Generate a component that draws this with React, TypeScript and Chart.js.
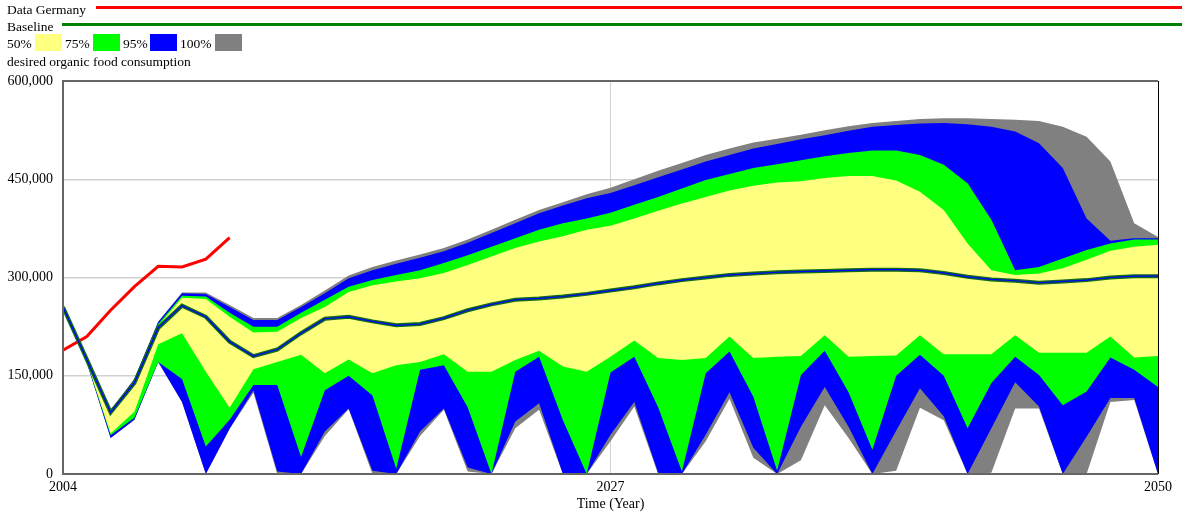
import React, { useEffect, useRef } from "react";
import { Chart, registerables } from "chart.js";

Chart.register(...registerables);

// Time axis (years)
const YEARS = [
  2004, 2005, 2006, 2007, 2008, 2009, 2010, 2011, 2012, 2013,
  2014, 2015, 2016, 2017, 2018, 2019, 2020, 2021, 2022, 2023,
  2024, 2025, 2026, 2027, 2028, 2029, 2030, 2031, 2032, 2033,
  2034, 2035, 2036, 2037, 2038, 2039, 2040, 2041, 2042, 2043,
  2044, 2045, 2046, 2047, 2048, 2049, 2050,
];
const X_TICKS = [2004, 2027, 2050];
const Y_TICKS = [0, 150000, 300000, 450000, 600000];

// values in thousands
const DATA_GERMANY_YEARS = [2004, 2005, 2006, 2007, 2008, 2009, 2010, 2011];
const DATA_GERMANY = [189, 210, 250, 286, 317, 316, 328, 361];

const BASELINE = [
  255, 175, 94, 139, 223, 257, 240, 202, 180, 190,
  215, 237, 240, 233, 227, 229, 238, 250, 259, 266,
  268, 271, 275, 280, 285, 291, 296, 300, 304, 306,
  308, 309, 310, 311, 312, 312, 311, 307, 301, 297,
  295, 292, 294, 296, 300, 302, 302,
];

const Y50_HIGH = [
  255, 175, 95, 141, 226, 269, 267, 240, 216, 217,
  238, 255, 278, 288, 294, 299, 307, 319, 332, 345,
  355, 363, 373, 379, 390, 402, 413, 423, 433, 440,
  445, 447, 452, 455, 455, 448, 431, 403, 352, 311,
  304, 306, 314, 327, 341, 347, 350,
];
const Y50_LOW = [
  255, 172, 62, 95, 198, 215, 156, 101, 160, 171,
  182, 154, 175, 154, 166, 171, 183, 156, 156, 174,
  188, 164, 156, 179, 204, 177, 174, 177, 210, 177,
  179, 180, 212, 179, 180, 181, 212, 183, 183, 183,
  212, 185, 185, 185, 210, 178, 180,
];
const Y75_HIGH = [
  255, 176, 96, 143, 229, 272, 271, 246, 225, 225,
  246, 266, 286, 296, 304, 311, 322, 334, 347, 360,
  373, 383, 390, 399, 411, 423, 436, 449, 458, 467,
  473, 479, 485, 490, 494, 494, 487, 472, 444, 388,
  311, 316, 329, 342, 352, 358, 358,
];
const Y75_LOW = [
  255, 171, 59, 86, 171, 145, 42, 83, 136, 136,
  26, 128, 150, 120, 8, 159, 166, 102, 0, 156,
  179, 82, 0, 155, 179, 102, 4, 154, 187, 118,
  5, 151, 188, 125, 37, 150, 182, 150, 70, 139,
  179, 151, 105, 126, 178, 159, 133,
];
const Y95_HIGH = [
  255, 176, 97, 145, 232, 276, 275, 255, 235, 235,
  255, 276, 299, 311, 321, 330, 340, 353, 368, 383,
  398, 410, 421, 429, 441, 453, 465, 477, 487, 497,
  504, 511, 517, 524, 530, 533, 535, 536, 534, 530,
  523, 505, 467, 390, 356, 360, 360,
];
const Y95_LOW = [
  255, 170, 55, 83, 171, 110, 0, 69, 128, 4,
  0, 65, 100, 5, 0, 65, 100, 10, 0, 80,
  108, 0, 0, 60, 110, 2, 0, 60, 125, 40,
  0, 72, 133, 72, 0, 66, 131, 88, 0, 70,
  140, 103, 0, 57, 116, 116, 0,
];
const Y100_HIGH = [
  255, 176, 97, 145, 233, 277, 277, 258, 238, 238,
  258, 280, 303, 316, 326, 335, 345, 358, 373, 388,
  403, 415, 427, 437, 450, 463, 475, 487, 497, 506,
  512, 518, 525, 531, 536, 539, 542, 543, 543, 542,
  541, 539, 530, 515, 477, 383, 362,
];
const Y100_LOW = [
  255, 170, 55, 83, 171, 110, 0, 69, 124, 0,
  0, 58, 99, 0, 0, 58, 98, 4, 0, 70,
  98, 0, 0, 50, 103, 0, 0, 50, 115, 25,
  0, 21, 105, 55, 0, 5, 101, 82, 0, 2,
  100, 100, 0, 0, 110, 113, 0,
];

const UNIT = 1000;
const FONT = "'Liberation Serif', 'Times New Roman', Times, serif";
const FS = 14;
const FS_LEGEND = 13.5;
const GRID = "rgba(205,205,205,0.9)";
const C_YELLOW = "#FFFF80";
const C_GREEN = "#00FF00";
const C_BLUE = "#0000FF";
const C_GRAY = "#808080";

const pts = (vals: number[], xs: number[] = YEARS) =>
  vals.map((v, i) => ({ x: xs[i], y: v * UNIT }));

const framePlugin = {
  id: "frame",
  afterDraw(chart: any) {
    const { ctx, chartArea: a } = chart;
    ctx.save();
    ctx.strokeStyle = "#666666";
    ctx.lineWidth = 2;
    ctx.beginPath();
    ctx.moveTo(a.right, a.top);
    ctx.lineTo(a.left, a.top);
    ctx.lineTo(a.left, a.bottom);
    ctx.lineTo(a.right, a.bottom);
    ctx.stroke();
    ctx.strokeStyle = "#000000";
    ctx.lineWidth = 1;
    ctx.beginPath();
    ctx.moveTo(a.right + 0.5, a.top);
    ctx.lineTo(a.right + 0.5, a.bottom);
    ctx.stroke();
    ctx.restore();
  },
};

const band = (vals: number[], color: string, fillTo: number | false) => ({
  data: pts(vals),
  borderWidth: 0,
  borderColor: color,
  backgroundColor: color,
  fill: fillTo,
  pointRadius: 0,
  tension: 0,
});

export default function App() {
  const ref = useRef<HTMLCanvasElement | null>(null);

  useEffect(() => {
    if (!ref.current) return;
    const chart = new Chart(ref.current, {
      type: "line",
      data: {
        datasets: [
          { label: "median", data: pts(BASELINE), borderColor: C_BLUE, borderWidth: 1.2, pointRadius: 0, fill: false, tension: 0 },
          { label: "Baseline", data: pts(BASELINE), borderColor: "#0f6a1a", borderWidth: 4, pointRadius: 0, fill: false, tension: 0 },
          { label: "Data Germany", data: pts(DATA_GERMANY, DATA_GERMANY_YEARS), borderColor: "#FF0000", borderWidth: 3, pointRadius: 0, fill: false, tension: 0 },
          band(Y50_HIGH, C_YELLOW, 4),
          band(Y50_LOW, C_YELLOW, false),
          band(Y75_HIGH, C_GREEN, 6),
          band(Y75_LOW, C_GREEN, false),
          band(Y95_HIGH, C_BLUE, 8),
          band(Y95_LOW, C_BLUE, false),
          band(Y100_HIGH, C_GRAY, 10),
          band(Y100_LOW, C_GRAY, false),
        ] as any,
      },
      options: {
        animation: false,
        responsive: true,
        maintainAspectRatio: false,
        layout: { padding: { left: 0, top: 81, right: 24, bottom: 0 } },
        plugins: { legend: { display: false }, tooltip: { enabled: false } },
        font: { family: FONT, size: FS },
        scales: {
          x: {
            type: "linear",
            min: X_TICKS[0],
            max: X_TICKS[X_TICKS.length - 1],
            z: 1,
            afterBuildTicks: (s: any) => {
              s.ticks = X_TICKS.map((v) => ({ value: v }));
            },
            afterFit: (s: any) => {
              s.height = 44;
            },
            ticks: {
              autoSkip: false,
              maxRotation: 0,
              padding: 5,
              color: "#000",
              font: { family: FONT, size: FS },
              callback: (v: any) => String(v),
            },
            grid: {
              drawTicks: false,
              lineWidth: 1,
              color: (c: any) => (c.tick && c.tick.value === X_TICKS[1] ? GRID : "rgba(0,0,0,0)"),
            },
            border: { display: false },
            title: {
              display: true,
              text: "Time (Year)",
              color: "#000",
              font: { family: FONT, size: FS },
              padding: { top: 0, bottom: 5 },
            },
          },
          y: {
            type: "linear",
            min: Y_TICKS[0],
            max: Y_TICKS[Y_TICKS.length - 1],
            z: 1,
            afterBuildTicks: (s: any) => {
              s.ticks = Y_TICKS.map((v) => ({ value: v }));
            },
            afterFit: (s: any) => {
              s.width = 63;
            },
            ticks: {
              padding: 10,
              color: "#000",
              font: { family: FONT, size: FS },
              callback: (v: any) => Number(v).toLocaleString("en-US"),
            },
            grid: {
              drawTicks: false,
              lineWidth: 1.5,
              color: (c: any) =>
                c.tick && c.tick.value > Y_TICKS[0] && c.tick.value < Y_TICKS[Y_TICKS.length - 1]
                  ? GRID
                  : "rgba(0,0,0,0)",
            },
            border: { display: false },
          },
        },
      } as any,
      plugins: [framePlugin],
    });
    return () => chart.destroy();
  }, []);

  const txt = (s: string, left: number, top: number) => (
    <div
      style={{
        position: "absolute",
        left,
        top,
        fontFamily: FONT,
        fontSize: FS_LEGEND,
        lineHeight: "15px",
        color: "#000",
        whiteSpace: "nowrap",
      }}
    >
      {s}
    </div>
  );
  const box = (color: string, left: number) => (
    <div style={{ position: "absolute", left, top: 34, width: 27, height: 17, background: color }} />
  );

  return (
    <div style={{ position: "absolute", left: 0, top: 0, width: 1182, height: 518, background: "#fff" }}>
      <canvas ref={ref} style={{ position: "absolute", left: 0, top: 0, width: 1182, height: 518, display: "block" }} />
      {txt("Data Germany", 7, 1.5)}
      <div style={{ position: "absolute", left: 96, top: 5.5, width: 1086, height: 3, background: "#FF0000" }} />
      {txt("Baseline", 7, 18.5)}
      <div style={{ position: "absolute", left: 62, top: 22.5, width: 1120, height: 3.5, background: "#008000" }} />
      {txt("50%", 7, 35.5)}
      {box(C_YELLOW, 35)}
      {txt("75%", 65, 35.5)}
      {box(C_GREEN, 93)}
      {txt("95%", 123, 35.5)}
      {box(C_BLUE, 150)}
      {txt("100%", 180, 35.5)}
      {box(C_GRAY, 215)}
      {txt("desired organic food consumption", 7, 53.5)}
    </div>
  );
}
